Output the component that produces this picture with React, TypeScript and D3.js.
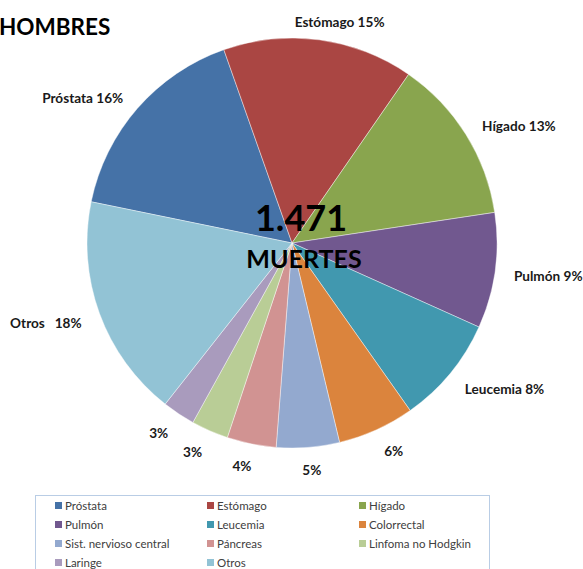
import React from "react";
import * as d3 from "d3";

const categories = ["Próstata", "Estómago", "Hígado", "Pulmón", "Leucemia", "Colorrectal", "Sist. nervioso central", "Páncreas", "Linfoma no Hodgkin", "Laringe", "Otros"];
const values = [241, 221, 191, 134, 125, 89, 73, 57, 43, 38, 259];
const labelNames = ["Próstata ", "Estómago ", "Hígado ", "Pulmón ", "Leucemia ", "", "", "", "", "", "Otros   "];
const colors = ["#4572A7", "#AA4643", "#89A54E", "#71588F", "#4198AF", "#DB843D", "#93A9CF", "#D19392", "#B9CD96", "#A99BBD", "#92C3D5"];
const title = "HOMBRES";
const total = "1.471";
const totalLabel = "MUERTES";

const W = 583, H = 569;
const cx = 292, cy = 243, R = 205;
const FONT = "Lato, 'Open Sans', sans-serif";
const LABEL_SIZE = 13.6;

function measure(text: string, font: string): number {
  if (typeof document === "undefined") return text.length * 7;
  const c = document.createElement("canvas");
  const ctx = c.getContext("2d");
  if (!ctx) return text.length * 7;
  ctx.font = font;
  return ctx.measureText(text).width;
}

export default function App() {
  const start = (-78.4 * Math.PI) / 180;
  const pie = d3.pie<number>().sort(null).startAngle(start).endAngle(start + 2 * Math.PI);
  const arcs = pie(values);
  const sum = d3.sum(values);
  const arcGen = d3.arc<d3.PieArcDatum<number>>().innerRadius(0).outerRadius(R);

  const labels = arcs.map((a, i) => {
    const pct = Math.round((values[i] / sum) * 100);
    const text = `${labelNames[i]}${pct}%`;
    const w = measure(text, `bold ${LABEL_SIZE}px Lato`);
    const h = 14;
    const m = (a.startAngle + a.endAngle) / 2;
    const sx = Math.max(-1, Math.min(1, 3 * Math.sin(m)));
    const sy = Math.max(-1, Math.min(1, Math.cos(m)));
    const dX = R + 19, dY = R + 13;
    const ax = cx + dX * Math.sin(m), ay = cy - dY * Math.cos(m);
    return { text, x: ax + 0.5 * sx * w, y: ay - 0.5 * sy * h + 2.5 };
  });

  const legX = d3.scaleOrdinal<number, number>().domain([0, 1, 2]).range([55, 207, 359]);
  const legY = d3.scaleLinear().domain([0, 1]).range([505.5, 524.5]);

  return (
    <svg width={W} height={H} style={{ position: "absolute", left: 0, top: 0, background: "#fff" }} fontFamily={FONT}>
      <text x={-1} y={35} fontSize={22.5} fontWeight="bold" fill="#000">{title}</text>
      <g transform={`translate(${cx},${cy})`}>
        {arcs.map((a, i) => (
          <path key={i} d={arcGen(a) || ""} fill={colors[i]} stroke="#ffffff" strokeWidth={0.6} strokeOpacity={0.7} />
        ))}
      </g>
      {labels.map((l, i) => (
        <text key={i} x={l.x} y={l.y} textAnchor="middle" dominantBaseline="central" fontSize={LABEL_SIZE} fontWeight="bold" fill="#1a1a1a" style={{ whiteSpace: "pre" }}>{l.text}</text>
      ))}
      <text x={301} y={231} textAnchor="middle" fontSize={36} fontWeight="bold" fill="#000">{total}</text>
      <text x={304} y={268} textAnchor="middle" fontSize={25} fontWeight="bold" fill="#000">{totalLabel}</text>
      <rect x={35.5} y={495.5} width={454} height={90} fill="#fff" stroke="#B9CDE5" strokeWidth={1} />
      {categories.map((c, i) => {
        const col = i % 3, row = Math.floor(i / 3);
        const x = legX(col), y = legY(row);
        return (
          <g key={c}>
            <rect x={x} y={y - 3.5} width={7} height={7} fill={colors[i]} />
            <text x={x + 10} y={y} dominantBaseline="central" fontSize={11.5} fill="#404040">{c}</text>
          </g>
        );
      })}
    </svg>
  );
}
